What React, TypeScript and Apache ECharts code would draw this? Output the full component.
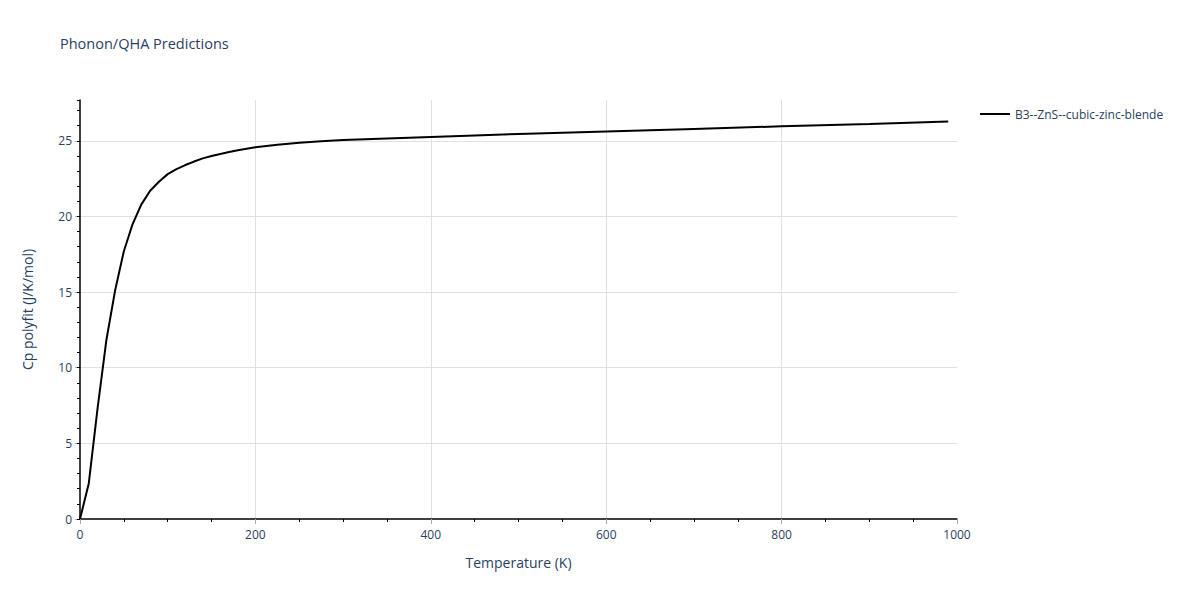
import React, { useEffect, useRef } from 'react';
import * as echarts from 'echarts';

const temperatures = [0, 10, 20, 30, 40, 50, 60, 70, 80, 90, 100, 110, 120, 130, 140, 150, 160, 170, 180, 190, 200, 225, 250, 275, 300, 350, 400, 450, 500, 600, 700, 800, 900, 990];
const cpValues = [0, 2.35, 7.3, 11.8, 15.1, 17.7, 19.5, 20.8, 21.7, 22.3, 22.8, 23.13, 23.4, 23.63, 23.84, 24.0, 24.13, 24.26, 24.38, 24.48, 24.57, 24.74, 24.87, 24.97, 25.05, 25.16, 25.26, 25.36, 25.45, 25.62, 25.79, 25.96, 26.12, 26.28];
const seriesName = 'B3--ZnS--cubic-zinc-blende';

const FONT = '"Open Sans", verdana, arial, sans-serif';
const TEXT = '#2a3f5f';
const GRID = '#e1e1e1';

const App: React.FC = () => {
  const chartRef = useRef<HTMLDivElement>(null);

  useEffect(() => {
    if (!chartRef.current) return;
    const chart = echarts.init(chartRef.current, null, { renderer: 'svg' });

    chart.setOption({
      animation: false,
      textStyle: { fontFamily: FONT },
      title: {
        text: 'Phonon/QHA Predictions',
        left: 55,
        top: 31,
        textStyle: { fontFamily: FONT, fontSize: 14.5, fontWeight: 'normal', color: TEXT },
      },
      legend: {
        left: 975,
        top: 103,
        itemWidth: 30,
        itemHeight: 2,
        itemGap: 6,
        icon: 'rect',
        textStyle: { fontFamily: FONT, fontSize: 12, color: TEXT },
        data: [seriesName],
      },
      grid: { left: 80, right: 243, top: 100, bottom: 81 },
      xAxis: {
        type: 'value',
        min: 0,
        max: 1000,
        interval: 200,
        name: 'Temperature (K)',
        nameLocation: 'middle',
        nameGap: 36,
        nameTextStyle: { fontFamily: FONT, fontSize: 14, color: TEXT },
        axisLine: { show: true, lineStyle: { color: '#000', width: 1.5 } },
        axisTick: { show: true, length: 5, lineStyle: { color: '#aaa' } },
        minorTick: { show: true, splitNumber: 4, length: 3, lineStyle: { color: '#000' } },
        axisLabel: { margin: 9, fontFamily: FONT, fontSize: 12, color: TEXT, formatter: (v: number) => String(v) },
        splitLine: { show: true, showMinLine: false, showMaxLine: false, lineStyle: { color: GRID } },
      },
      yAxis: [
        {
          type: 'value',
          position: 'left',
          min: 0,
          max: 27.7,
          interval: 5,
          name: 'Cp polyfit (J/K/mol)',
          nameLocation: 'middle',
          nameGap: 46,
          nameTextStyle: { fontFamily: FONT, fontSize: 14, color: TEXT },
          axisLine: { show: true, lineStyle: { color: '#000', width: 1.5 } },
          axisTick: { show: true, length: 5, lineStyle: { color: '#aaa' } },
          axisLabel: { margin: 8, fontFamily: FONT, fontSize: 12, color: TEXT, showMaxLabel: false },
          splitLine: { show: true, showMinLine: false, showMaxLine: false, lineStyle: { color: GRID } },
        },
        {
          type: 'value',
          position: 'left',
          min: 0,
          max: 27.7,
          interval: 1,
          axisLine: { show: false },
          axisTick: { show: true, length: 3, lineStyle: { color: '#000' } },
          axisLabel: { show: false },
          splitLine: { show: false },
        },
      ],
      series: [
        {
          name: seriesName,
          type: 'line',
          yAxisIndex: 0,
          data: temperatures.map((t, i) => [t, cpValues[i]]),
          showSymbol: false,
          symbol: 'none',
          smooth: false,
          lineStyle: { color: '#000', width: 2 },
          itemStyle: { color: '#000' },
        },
      ],
    });

    return () => {
      chart.dispose();
    };
  }, []);

  return (
    <div
      ref={chartRef}
      style={{ position: 'absolute', left: 0, top: 0, width: 1200, height: 600, background: '#fff' }}
    />
  );
};

export default App;
